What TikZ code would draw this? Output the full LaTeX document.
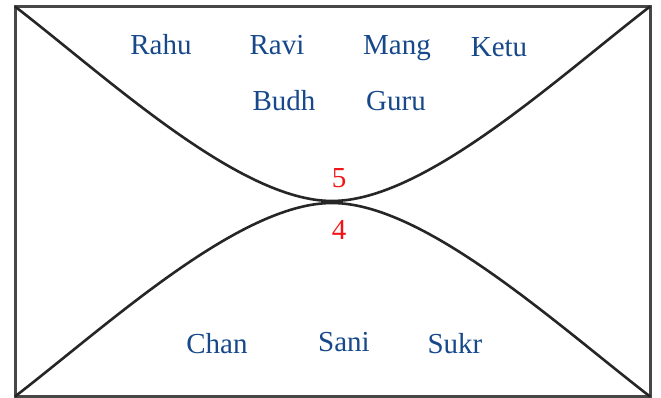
\documentclass[tikz,border=0pt]{standalone}
\usepackage{fontspec}
\setmainfont{Liberation Serif}
\usepackage{tikz}
\definecolor{grahablue}{RGB}{22,72,138}
\definecolor{bhavared}{RGB}{240,20,20}
\tikzset{
	graha/.style={anchor=base, inner sep=0pt, text=grahablue, font=\rmfamily\fontsize{29}{32}\selectfont},
	bhava/.style={anchor=base, inner sep=0pt, text=bhavared, font=\rmfamily\fontsize{29}{32}\selectfont},
	frameline/.style={line width=3pt, color=black!72},
	curveline/.style={line width=2.6pt, color=black!85}
}

\begin{document}
\begin{tikzpicture}[x=1pt, y=-1pt]
			%%%%% START %%%%%
			\useasboundingbox (0, 0) rectangle (661, 398);
			
			\draw[frameline] (15, 6.5) rectangle (650, 396.5);
			
			\draw[curveline] (15, 6.5) .. controls (110, 80) and (240, 201) .. (332, 201)
				.. controls (424, 201) and (555, 80) .. (650, 6.5);
			\draw[curveline] (15, 396.5) .. controls (110, 323) and (240, 203) .. (332, 203)
				.. controls (424, 203) and (555, 323) .. (650, 396.5);
			
			\node[graha] (rahu) at (161, 55) {Rahu};
			\node[graha] (ravi) at (277, 55) {Ravi};
			\node[graha] (mang) at (397, 55) {Mang};
			\node[graha] (ketu) at (499, 57) {Ketu};
			\node[graha] (budh) at (284, 111) {Budh};
			\node[graha] (guru) at (396, 111) {Guru};
			
			\node[bhava] (h5) at (339, 188) {5};
			\node[bhava] (h4) at (339, 240) {4};
			
			\node[graha] (chan) at (217, 353) {Chan};
			\node[graha] (sani) at (344, 351) {Sani};
			\node[graha] (sukr) at (455, 353) {Sukr};
			
			%%%%% END %%%%%
		\end{tikzpicture}
\end{document}
